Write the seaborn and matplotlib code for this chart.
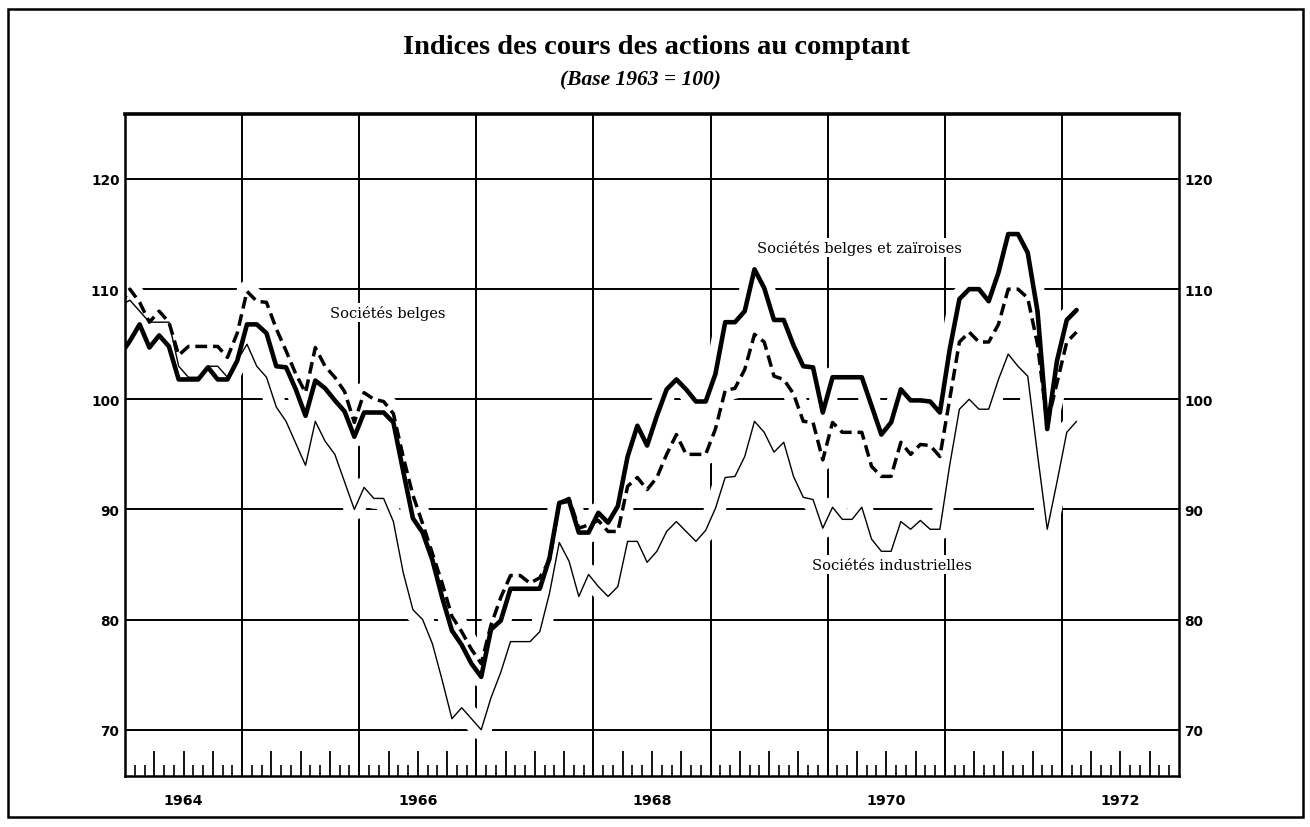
import matplotlib
matplotlib.use("Agg")
import matplotlib.pyplot as plt
import matplotlib.transforms as mtransforms
from matplotlib.patches import Rectangle
import pandas as pd
import seaborn as sns

# Monthly observations, Dec 1963 - Feb 1972 (base 1963 = 100)
months = pd.period_range("1963-12", "1972-02", freq="M")

belges_zairoises = [
    104.0,
    105.3, 106.8, 104.7, 105.8, 104.8, 101.8, 101.8, 101.8, 102.9, 101.8, 101.8, 103.5,
    106.8, 106.8, 106.0, 103.0, 102.9, 100.9, 98.5, 101.7, 101.0, 99.9, 98.9, 96.6,
    98.8, 98.8, 98.8, 97.9, 93.5, 89.2, 87.9, 85.4, 82.0, 79.0, 77.7, 76.0,
    74.8, 79.1, 79.9, 82.8, 82.8, 82.8, 82.8, 85.6, 90.6, 90.8, 87.9, 87.9,
    89.7, 88.8, 90.3, 94.8, 97.6, 95.8, 98.5, 100.9, 101.8, 100.9, 99.8, 99.8,
    102.3, 107.0, 107.0, 108.0, 111.8, 110.1, 107.2, 107.2, 104.9, 103.0, 102.9, 98.8,
    102.0, 102.0, 102.0, 102.0, 99.4, 96.8, 97.9, 100.9, 99.9, 99.9, 99.8, 98.8,
    104.5, 109.1, 110.0, 110.0, 108.9, 111.5, 115.0, 115.0, 113.3, 108.0, 97.3, 103.5,
    107.2, 108.1,
]

belges = [
    108.5,
    110.0, 108.8, 107.0, 108.0, 107.0, 104.0, 104.8, 104.8, 104.8, 104.8, 103.8, 106.0,
    109.8, 108.9, 108.8, 106.4, 104.4, 102.3, 100.6, 104.7, 103.0, 102.0, 100.7, 97.9,
    100.6, 100.0, 99.8, 98.7, 94.8, 91.3, 88.7, 86.0, 83.3, 80.3, 78.9, 77.3,
    76.0, 79.5, 82.0, 84.0, 84.0, 83.3, 83.8, 85.4, 90.6, 91.0, 88.3, 88.6,
    89.0, 88.0, 88.0, 92.1, 92.9, 91.8, 92.9, 95.0, 96.8, 95.0, 95.0, 95.0,
    97.3, 100.8, 101.0, 102.7, 105.9, 105.2, 102.1, 101.8, 100.5, 98.0, 97.9, 94.5,
    97.9, 97.0, 97.0, 97.0, 93.9, 93.0, 93.0, 96.1, 95.0, 95.9, 95.8, 94.8,
    100.0, 105.2, 106.1, 105.2, 105.2, 106.8, 110.0, 110.0, 109.2, 105.0, 97.8, 101.5,
    105.2, 106.1,
]

industrielles = [
    108.5,
    109.0, 108.0, 107.0, 107.0, 107.0, 103.0, 102.0, 102.0, 103.0, 103.0, 102.0, 103.5,
    105.0, 103.0, 102.0, 99.3, 98.0, 96.0, 94.0, 98.0, 96.2, 95.0, 92.5, 90.0,
    92.0, 91.0, 91.0, 88.9, 84.3, 80.9, 80.0, 77.8, 74.5, 71.0, 72.0, 71.0,
    70.0, 72.9, 75.2, 78.0, 78.0, 78.0, 78.9, 82.4, 87.0, 85.3, 82.1, 84.1,
    83.0, 82.1, 83.0, 87.1, 87.1, 85.2, 86.2, 88.0, 88.9, 88.0, 87.1, 88.1,
    90.1, 92.9, 93.0, 94.8, 98.0, 97.0, 95.2, 96.1, 93.0, 91.1, 90.9, 88.3,
    90.2, 89.1, 89.1, 90.2, 87.3, 86.2, 86.2, 88.9, 88.2, 89.0, 88.2, 88.2,
    94.0, 99.1, 100.0, 99.1, 99.1, 101.8, 104.1, 103.0, 102.1, 95.0, 88.2, 92.5,
    97.0, 98.0,
]

year_labels = ["1964", "1966", "1968", "1970", "1972"]
y_ticks = [70, 80, 90, 100, 110, 120]

title = "Indices des cours des actions au comptant"
subtitle = "(Base 1963 = 100)"
series_labels = {
    "Sociétés belges": (26.9, 107.9),
    "Sociétés belges et zaïroises": (75.3, 113.8),
    "Sociétés industrielles": (78.6, 85.0),
}

sns.set_theme(style="white")
plt.rcParams["font.family"] = ["DejaVu Sans"]

# month index measured from January 1964, each value centred in its month
xpos = [(p.year - 1964) * 12 + (p.month - 1) + 0.5 for p in months]
df = pd.DataFrame({
    "mois": xpos,
    "bz": belges_zairoises,
    "b": belges,
    "ind": industrielles,
})

W, H = 1310, 828
fig = plt.figure(figsize=(W / 100, H / 100), dpi=100)
left, right, top, bottom = 125, 1179, 115, 777
ax = fig.add_axes([left / W, 1 - bottom / H, (right - left) / W, (bottom - top) / H])

ax.set_xlim(0, 108)
ax.set_ylim(65.8, 125.9)

# grid: horizontal index levels, vertical year boundaries
ax.set_yticks(y_ticks)
for v in y_ticks:
    ax.axhline(v, color="black", lw=1.4, zorder=1)
for m in range(12, 108, 12):
    ax.axvline(m, color="black", lw=1.4, zorder=1)

# white halo beneath the curves interrupts the grid around them
for col in ["bz", "b", "ind"]:
    sns.lineplot(data=df, x="mois", y=col, ax=ax, color="white", lw=15,
                 solid_capstyle="round", zorder=2, legend=False)

sns.lineplot(data=df, x="mois", y="ind", ax=ax, color="black", lw=1.0,
             zorder=4, legend=False)
sns.lineplot(data=df, x="mois", y="b", ax=ax, color="black", lw=2.5,
             zorder=4, legend=False)
ax.lines[-1].set_dashes((3.4, 1.7))
sns.lineplot(data=df, x="mois", y="bz", ax=ax, color="black", lw=3.3,
             zorder=5, legend=False)
ax.set_xlabel("")
ax.set_ylabel("")

# month / quarter ticks along the bottom edge
quarters = [m for m in range(3, 108, 3) if m % 12]
monthly = [m for m in range(1, 108) if m % 3]
ax.set_xticks(quarters)
ax.set_xticks(monthly, minor=True)
ax.tick_params(axis="x", which="major", direction="in", length=18, width=1.3,
               bottom=True, labelbottom=False, color="black")
ax.tick_params(axis="x", which="minor", direction="in", length=8, width=1.2,
               bottom=True, color="black")
ax.tick_params(axis="y", which="both", length=0, labelleft=True, labelright=True,
               pad=4, labelsize=9.8, labelcolor="black")
for lab in ax.get_yticklabels():
    lab.set_fontweight("bold")

for s in ax.spines.values():
    s.set_color("black")
    s.set_linewidth(1.8)
ax.spines["top"].set_linewidth(2.6)

trans = mtransforms.blended_transform_factory(ax.transData, ax.transAxes)
for i, lab in enumerate(year_labels):
    ax.text(6 + 24 * i, -0.036, lab, transform=trans, ha="center", va="center",
            fontsize=10.2, fontweight="bold", color="black")

for txt, (mx, my) in series_labels.items():
    ax.text(mx, my, txt, ha="center", va="center", fontsize=10.5,
            family="DejaVu Serif", color="black", zorder=3,
            bbox=dict(facecolor="white", edgecolor="none", pad=1.5))

fig.text(656 / W, 1 - 47 / H, title, ha="center", va="center",
         family="Liberation Serif", fontweight="bold", fontsize=20.5, color="black")
fig.text(640 / W, 1 - 80 / H, subtitle, ha="center", va="center",
         family="Liberation Serif", fontweight="bold", style="italic",
         fontsize=15.5, color="black")

fig.patches.append(Rectangle((8 / W, 1 - 818 / H), (1303 - 8) / W, (818 - 10) / H,
                             transform=fig.transFigure, fill=False,
                             edgecolor="black", lw=1.8))

fig.savefig("out.png", dpi=100, facecolor="white")
